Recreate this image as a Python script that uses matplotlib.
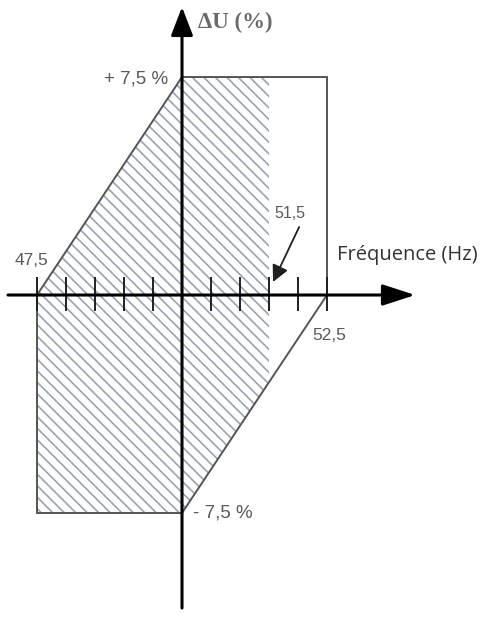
import matplotlib.pyplot as plt
from matplotlib.patches import Polygon

# gabarit fréquence / tension
freq_outline = [47.5, 50.0, 52.5, 52.5, 50.0, 47.5]
du_outline = [0.0, 7.5, 7.5, 0.0, -7.5, -7.5]
freq_hatch = [47.5, 50.0, 51.5, 51.5, 50.0, 47.5]
du_hatch = [0.0, 7.5, 7.5, -3.0, -7.5, -7.5]
tick_freqs = [47.5, 48.0, 48.5, 49.0, 49.5, 50.5, 51.0, 51.5, 52.0, 52.5]

DPI = 138
S = 100 / DPI  # tailles pensées à 100 dpi
text_grey = '#5a5a5a'

plt.rcParams['hatch.linewidth'] = 1.2 * S
plt.rcParams['hatch.color'] = '#9aa3b0'


def plot_gabarit():
    fig = plt.figure(figsize=(496 / DPI, 622 / DPI), dpi=DPI)
    ax = fig.add_axes([0, 0, 1, 1])
    ax.set_xlim(46.862, 55.414)
    ax.set_ylim(-11.25, 10.15)
    ax.axis('off')

    # zone hachurée
    hatch = Polygon(list(zip(freq_hatch, du_hatch)), closed=True, fill=False,
                    hatch='\\\\\\\\', edgecolor='#9aa3b0', linewidth=0)
    ax.add_patch(hatch)

    # contour
    outline = Polygon(list(zip(freq_outline, du_outline)), closed=True, fill=False,
                      edgecolor='#555555', linewidth=1.4 * S)
    ax.add_patch(outline)

    # axes avec flèches
    ax.annotate('', xy=(54.02, 0), xytext=(47.0, 0),
                arrowprops=dict(arrowstyle='-|>,head_length=0.8,head_width=0.26',
                                color='black', lw=2.2 * S,
                                mutation_scale=25 * S, shrinkA=0, shrinkB=0))
    ax.annotate('', xy=(50, 9.91), xytext=(50, -10.77),
                arrowprops=dict(arrowstyle='-|>,head_length=0.7,head_width=0.27',
                                color='black', lw=2.2 * S,
                                mutation_scale=25 * S, shrinkA=0, shrinkB=0))

    # graduations tous les 0,5 Hz
    ax.vlines(tick_freqs, -0.55, 0.62, color='#202020', linewidth=1.4 * S)

    ax.text(50.28, 9.18, 'ΔU (%)', family='Liberation Serif', fontweight='bold',
            fontsize=16.5 * S, color='#6a6a6a', va='baseline', ha='left')
    ax.text(49.76, 7.29, '+ 7,5 %', family='Liberation Sans', fontsize=13.5 * S,
            color=text_grey, va='baseline', ha='right')
    ax.text(50.19, -7.64, '- 7,5 %', family='Liberation Sans', fontsize=13.5 * S,
            color=text_grey, va='baseline', ha='left')
    ax.text(47.12, 1.03, '47,5', family='Liberation Sans', fontsize=12.5 * S,
            color=text_grey, va='baseline', ha='left')
    ax.text(52.24, -1.55, '52,5', family='Liberation Sans', fontsize=12.5 * S,
            color=text_grey, va='baseline', ha='left')
    ax.text(51.6, 2.65, '51,5', family='Liberation Sans', fontsize=11.5 * S,
            color=text_grey, va='baseline', ha='left')
    ax.text(52.67, 1.2, 'Fréquence (Hz)', family='Open Sans', fontsize=14.5 * S,
            color='#333333', va='baseline', ha='left')

    ax.annotate('', xy=(51.57, 0.45), xytext=(52.02, 2.34),
                arrowprops=dict(arrowstyle='-|>,head_length=0.5,head_width=0.25',
                                color='#202020', lw=1.3 * S,
                                mutation_scale=20 * S, shrinkA=0, shrinkB=0))

    fig.savefig('out.png', dpi=DPI)


if __name__ == "__main__":
    plot_gabarit()
